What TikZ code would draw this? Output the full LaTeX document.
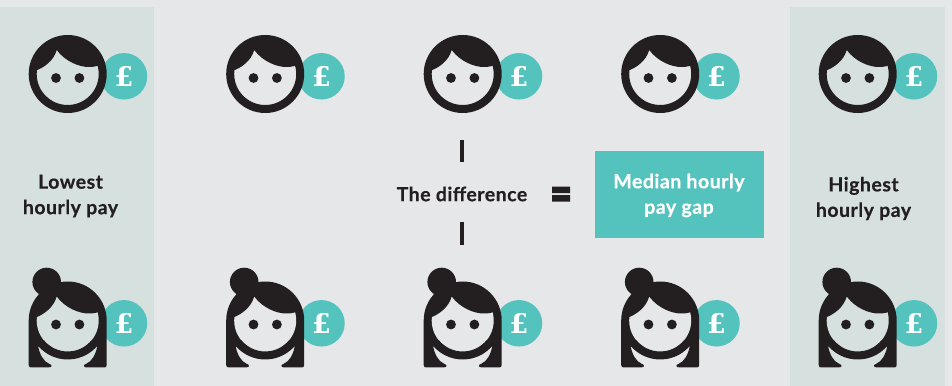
\documentclass[tikz,border=0pt]{standalone}
\usepackage{fontspec}
\setmainfont{Lato}[LetterSpace=2.5,BoldFeatures={FakeBold=0.4}]
\newfontfamily\poundfont{DejaVu Serif}
\definecolor{pagecol}{HTML}{E5E7E9}
\definecolor{panelcol}{HTML}{D6E0DF}
\definecolor{tealcol}{HTML}{55C3BD}
\definecolor{inkcol}{HTML}{231F20}
\tikzset{
  panel/.style={fill=panelcol,draw=none},
  caption/.style={align=center,text=inkcol,font=\bfseries\fontsize{19.5bp}{25.5bp}\selectfont},
  coin/.style={circle,fill=tealcol,minimum size=46.5bp,inner sep=0pt,text=white,font=\poundfont\bfseries\fontsize{27bp}{27bp}\selectfont},
  ink/.style={fill=inkcol,draw=none},
  bar/.style={line width=4bp,draw=inkcol},
  % the head is centred on the pic's origin
  man/.pic={
    \node[coin] (-coin) at (56.3bp,-2.3bp) {£};
    \fill[\facecol] (0bp,0bp) circle (33bp);
    \draw[inkcol,line width=8bp] (0bp,0bp) circle (35bp);
    \path[ink] (-33bp,3bp) .. controls (-24bp,6bp) and (-14bp,13bp) .. (-11bp,24bp)
      .. controls (-2bp,12bp) and (12bp,7bp) .. (21bp,7bp)
      .. controls (27bp,7bp) and (31bp,8bp) .. (36bp,11bp)
      arc (17:163:37.5bp) -- cycle;
    \fill[inkcol] (-11.7bp,-4bp) circle (4.9bp) (11.7bp,-4bp) circle (4.9bp);
  },
  woman/.pic={
    \node[coin] (-coin) at (56.3bp,-2.8bp) {£};
    \path[ink] (-39bp,0bp) -- (-39bp,-44.5bp) .. controls (-39bp,-46.5bp) and (-38bp,-47bp) .. (-36bp,-47bp)
      -- (-20bp,-47bp) .. controls (-15bp,-47bp) and (-15bp,-44.5bp) .. (-19bp,-43bp)
      .. controls (-24bp,-41bp) and (-28bp,-34bp) .. (-29.5bp,-26bp)
      -- (29.5bp,-26bp) .. controls (28bp,-34bp) and (24bp,-41bp) .. (19bp,-43bp)
      .. controls (15bp,-44.5bp) and (15bp,-47bp) .. (20bp,-47bp)
      -- (36bp,-47bp) .. controls (38bp,-47bp) and (39bp,-46.5bp) .. (39bp,-44.5bp)
      -- (39bp,0bp) arc (0:180:39bp) -- cycle;
    \fill[\facecol] (0bp,0bp) circle (31bp);
    \draw[inkcol,line width=8bp] (0bp,0bp) ++(-140:35bp) arc (-140:-40:35bp);
    \path[ink] (-32bp,3bp) .. controls (-24bp,6bp) and (-14bp,13bp) .. (-11bp,24bp)
      .. controls (-2bp,12bp) and (12bp,7bp) .. (21bp,7bp)
      .. controls (27bp,7bp) and (31bp,8bp) .. (36bp,11bp)
      arc (17:163:37.5bp) -- cycle;
    \fill[inkcol] (-21bp,38.5bp) circle (14.3bp);
    \fill[inkcol] (-11.7bp,-4bp) circle (4.9bp) (11.7bp,-4bp) circle (4.9bp);
  },
}
\begin{document}
\begin{tikzpicture}
  \useasboundingbox (0bp,0bp) rectangle (952bp,386bp);
  \fill[pagecol] (0bp,0bp) rectangle (952bp,386bp);
%%
  \path[panel] (0bp,0bp) rectangle (154bp,379bp);
  \path[panel] (790bp,0bp) rectangle (945bp,379bp);
  % Row: men and women
  \foreach \col/\px/\facecol in {1/67.7bp/panelcol,2/265.2bp/pagecol,3/462.7bp/pagecol,4/660.2bp/pagecol,5/857.7bp/panelcol} {
    \pic (man\col) at (\px,312bp) {man};
    \pic (woman\col) at (\px,65.5bp) {woman};
  }
  % Node: captions
  \node[caption] (lowest) at (70.5bp,190bp) {Lowest\\hourly pay};
  \node[caption] (highest) at (863.5bp,187.5bp) {Highest\\hourly pay};
  \node[caption] (difference) at (462bp,192bp) {The difference};
  \node[caption,fill=tealcol,text=white,minimum width=169bp,minimum height=87bp] (gap) at (679.5bp,191.5bp) {};
  \node[caption,text=white] (gaptext) at (679bp,190.5bp) {Median hourly\\pay gap};
  % Bars
  \draw[bar] (462bp,224bp) -- (462bp,246bp);
  \draw[bar] (462bp,141bp) -- (462bp,164bp);
  \fill[inkcol] (552bp,192.8bp) rectangle (570bp,199.3bp) (552bp,184.3bp) rectangle (570bp,190.8bp);
%
\end{tikzpicture}
\end{document}
